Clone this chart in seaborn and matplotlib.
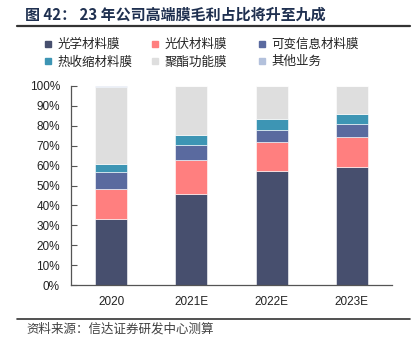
import numpy as np
import pandas as pd
import matplotlib
matplotlib.use("Agg")
import matplotlib.pyplot as plt
from matplotlib.lines import Line2D
from matplotlib.ticker import FixedLocator, PercentFormatter
import seaborn as sns

# ---- data ----
years = ["2020", "2021E", "2022E", "2023E"]
series_names = ["光学材料膜", "光伏材料膜", "可变信息材料膜", "热收缩材料膜", "聚酯功能膜", "其他业务"]
optical = [33.2, 45.9, 57.3, 59.1]
photovoltaic = [15.0, 16.9, 14.6, 15.1]
variable_info = [8.7, 7.7, 6.1, 6.5]
heat_shrink = [3.9, 4.9, 5.3, 5.4]
polyester = [38.9, 24.6, 16.7, 13.9]
other = [0.3, 0.0, 0.0, 0.0]
y_ticks = [0, 10, 20, 30, 40, 50, 60, 70, 80, 90, 100]

colors = ["#474F6E", "#FF7F7F", "#5A6A9F", "#3D95B4", "#DEDEDE", "#B3C1DC"]

sns.set_theme(style="white")
plt.rcParams["font.family"] = ["Noto Sans CJK SC", "DejaVu Sans"]

fig = plt.figure(figsize=(4.14, 3.51), dpi=100)
ax = fig.add_axes([71 / 414, 1 - 285 / 351, (392 - 71) / 414, (285 - 86) / 351])

values = [optical, photovoltaic, variable_info, heat_shrink, polyester, other]
bottom = np.zeros(len(years))
for name, vals, col in zip(series_names, values, colors):
    df = pd.DataFrame({"year": years, "value": vals})
    sns.barplot(data=df, x="year", y="value", color=col, bottom=bottom,
                width=0.4, ax=ax, edgecolor="white", linewidth=0.4,
                saturation=1, label=name)
    bottom = bottom + np.array(vals)

ax.set_xlim(-0.5, 3.5)
ax.set_ylim(0, 100)
ax.set_xlabel("")
ax.set_ylabel("")
ax.set_yticks(y_ticks)
ax.yaxis.set_major_formatter(PercentFormatter(decimals=0))
ax.xaxis.set_minor_locator(FixedLocator([0.5, 1.5, 2.5, 3.5]))
ax.tick_params(axis="x", which="major", length=0, pad=8, labelsize=8.5, labelcolor="#222222")
ax.tick_params(axis="x", which="minor", direction="in", length=4, width=0.8, color="#555555")
ax.tick_params(axis="y", which="major", direction="in", length=4, width=0.8, color="#555555",
               labelsize=8.5, labelcolor="#222222", pad=8, left=True)
for lab in ax.get_xticklabels() + ax.get_yticklabels():
    lab.set_family(["Liberation Sans", "Noto Sans CJK SC"])
for s in ["top", "right"]:
    ax.spines[s].set_visible(False)
for s in ["left", "bottom"]:
    ax.spines[s].set_color("#555555")
    ax.spines[s].set_linewidth(0.9)
if ax.get_legend() is not None:
    ax.get_legend().remove()

# legend: three columns placed at fixed positions
handles = [Line2D([], [], marker="s", linestyle="none", markersize=5,
                  markerfacecolor=c, markeredgecolor=c) for c in colors]
col_x = [44, 151, 258]
for ci in range(3):
    idx = [ci, ci + 3]
    leg = fig.legend([handles[i] for i in idx], [series_names[i] for i in idx],
                     loc="upper left", bbox_to_anchor=(col_x[ci] / 414, 1 - 38 / 351),
                     frameon=False, fontsize=9, handlelength=0.7, handletextpad=0.4,
                     labelspacing=0.35, borderpad=0, borderaxespad=0)
    for t in leg.get_texts():
        t.set_color("#222222")

# title and rules
fig.text(25 / 414, 1 - 15 / 351, "图 42： 23 年公司高端膜毛利占比将升至九成",
         fontsize=10.8, fontweight="bold", color="#1F3050", va="center", ha="left")
fig.add_artist(Line2D([17 / 414, 410 / 414], [1 - 26 / 351, 1 - 26 / 351],
                      transform=fig.transFigure, color="#333333", linewidth=1.6))
fig.add_artist(Line2D([17 / 414, 410 / 414], [1 - 319 / 351, 1 - 319 / 351],
                      transform=fig.transFigure, color="#333333", linewidth=1.2))
fig.text(26 / 414, 1 - 329 / 351, "资料来源：信达证券研发中心测算",
         fontsize=9, color="#404040", va="center", ha="left", style="italic")

fig.savefig("out.png", dpi=100)
